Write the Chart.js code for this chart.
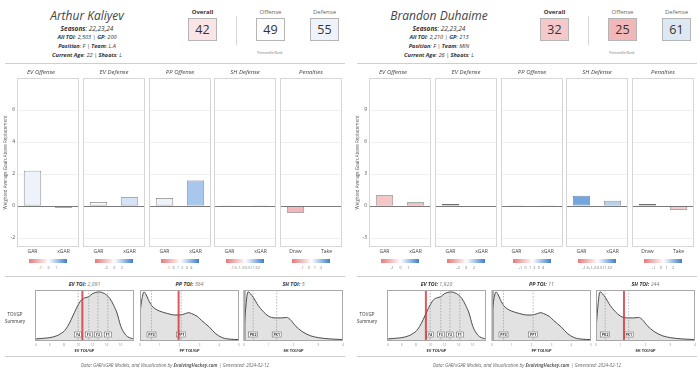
<!DOCTYPE html>
<html>
<head>
<meta charset="utf-8">
<script src="https://cdn.jsdelivr.net/npm/chart.js@4/dist/chart.umd.min.js"></script>
<style>
  body { margin: 0; background: #fff; }
  #page { position: relative; width: 700px; height: 377px; overflow: hidden; font-family: 'Open Sans', sans-serif; color: #333; }
  .t { position: absolute; white-space: nowrap; transform: translate(-50%, -50%); line-height: 1; }
  .box { position: absolute; border: 0.7px solid #b5b5b5; box-sizing: border-box; display: flex; align-items: center; justify-content: center; font-size: 12.5px; color: #333; }
  .rule { position: absolute; background: #cfcfcf; }
  .grad { position: absolute; height: 4px; background: linear-gradient(90deg, #e8797a 0%, #fce3e3 42%, #ffffff 50%, #e4edf9 58%, #3f7fcc 100%); }
  .gticks { position: absolute; display: flex; justify-content: space-evenly; font-size: 3.5px; color: #666; }
  canvas { position: absolute; }
</style>
</head>
<body>
<div id="page"></div>
<script>
// Panel names and bar categories
const panelTitles = ['EV Offense', 'EV Defense', 'PP Offense', 'SH Defense', 'Penalties'];
const barLabels = [['GAR', 'xGAR'], ['GAR', 'xGAR'], ['GAR', 'xGAR'], ['GAR', 'xGAR'], ['Draw', 'Take']];
const rankLabels = ['Overall', 'Offense', 'Defense'];

// Arthur Kaliyev
const kaliyevValues = [[2.2, -0.1], [0.25, 0.55], [0.5, 1.6], [0.02, 0.02], [-0.42, -0.03]];
const kaliyevColors = [['#eef3fb', '#e6a1a2'], ['#f8f9fc', '#d6e3f5'], ['#eef3fb', '#a9c7ec'], ['#c9c9c9', '#c9c9c9'], ['#f4b6b8', '#d9d9d9']];
const kaliyevRange = [-2.56, 8.0];
const kaliyevTicks = [-2, 0, 2, 4, 6];
const kaliyevRanks = [42, 49, 55];
const kaliyevRankColors = ['#fbe4e5', '#fcfcfd', '#eef2fa'];
const kaliyevToi = [10.6, 1.95, 0.02];
const kaliyevToiText = ['2,091', '384', '5'];
const kaliyevLegendTicks = [['-1', '0', '1'], ['-2', '0', '2'], ['-1', '0', '1', '2', '3', '4'], ['-1.5', '-1', '-.5', '0', '.5', '1', '1.5', '2'], ['-1', '0', '1', '2']];

// Brandon Duhaime
const duhaimeValues = [[1.0, 0.35], [0.2, 0.05], [0.02, 0.02], [0.97, 0.5], [0.2, -0.35]];
const duhaimeColors = [['#f6c6c7', '#f3c0c1'], ['#ffffff', '#e6ecf5'], ['#c9c9c9', '#c9c9c9'], ['#73a5de', '#b7cfee'], ['#fdfdfd', '#f5caca']];
const duhaimeRange = [-3.84, 12.0];
const duhaimeTicks = [-3, 0, 3, 6, 9];
const duhaimeRanks = [32, 25, 61];
const duhaimeRankColors = ['#f5c9ca', '#f2b8b9', '#dde8f5'];
const duhaimeToi = [9.4, 0.03, 1.13];
const duhaimeToiText = ['1,920', '11', '244'];
const duhaimeLegendTicks = [['-1', '0', '1'], ['-2', '0', '2'], ['-1', '0', '1', '2', '3', '4'], ['-1.5', '-1', '-.5', '0', '.5', '1', '1.5', '2'], ['-1', '0', '1', '2']];

// League TOI/GP distributions (relative density)
const evX = [3.9, 5, 6, 7, 7.5, 8, 8.5, 9, 9.5, 10, 10.5, 11, 11.5, 12, 12.5, 13, 13.5, 14, 14.5, 15, 15.5, 16, 16.5, 17, 17.9];
const evDensity = [0.02, 0.035, 0.05, 0.09, 0.13, 0.18, 0.28, 0.42, 0.58, 0.73, 0.84, 0.88, 0.9, 0.96, 0.99, 1.0, 0.98, 0.94, 0.86, 0.73, 0.56, 0.3, 0.15, 0.07, 0.02];
const ppX = [0, 0.1, 0.2, 0.3, 0.42, 0.6, 0.8, 1.0, 1.4, 1.75, 2.0, 2.3, 2.45, 2.6, 2.9, 3.1, 3.5, 3.8, 4.15, 4.5, 5.0];
const ppDensity = [0.57, 0.86, 1.0, 0.95, 0.84, 0.71, 0.64, 0.6, 0.55, 0.52, 0.52, 0.55, 0.57, 0.55, 0.49, 0.41, 0.27, 0.14, 0.05, 0.02, 0.01];
const shX = [0, 0.05, 0.16, 0.37, 0.57, 0.78, 0.98, 1.25, 1.52, 1.72, 1.86, 2.07, 2.34, 2.68, 3.0, 3.56, 4.0];
const shDensity = [0.2, 0.55, 1.0, 0.89, 0.72, 0.59, 0.5, 0.46, 0.46, 0.47, 0.43, 0.3, 0.18, 0.09, 0.05, 0.02, 0.01];
const evTicks = [4, 6, 8, 10, 12, 14, 16];
const ppTicks = [0, 1, 2, 3, 4, 5];
const shTicks = [0, 1, 2, 3, 4];
const evLines = [10.0, 11.5, 12.8, 14.2];
const evLineLabels = ['F4', 'F3', 'F2', 'F1'];
const ppLines = [0.58, 2.08];
const ppLineLabels = ['PP2', 'PP1'];
const shLines = [0.37, 1.32];
const shLineLabels = ['PK2', 'PK1'];

Chart.defaults.font.family = "'Open Sans', sans-serif";

const page = document.getElementById('page');

function addText(html, x, y, css) {
    const d = document.createElement('div');
    d.className = 't';
    d.innerHTML = html;
    d.style.left = x + 'px';
    d.style.top = y + 'px';
    Object.assign(d.style, css || {});
    page.appendChild(d);
    return d;
}

function addDiv(cls, x, y, w, h, css) {
    const d = document.createElement('div');
    d.className = cls;
    Object.assign(d.style, { left: x + 'px', top: y + 'px', width: w + 'px', height: h + 'px' }, css || {});
    page.appendChild(d);
    return d;
}

function makeCanvas(x, y, w, h) {
    const c = document.createElement('canvas');
    c.width = w;
    c.height = h;
    c.style.left = x + 'px';
    c.style.top = y + 'px';
    page.appendChild(c);
    return c;
}

// Thin grey frame round the plotting area
const panelBox = {
    id: 'panelBox',
    afterDraw(chart, args, opts) {
        const a = chart.chartArea, ctx = chart.ctx;
        ctx.save();
        ctx.strokeStyle = opts.color || '#ccc';
        ctx.lineWidth = 1;
        ctx.strokeRect(a.left + 0.5, a.top + 0.5, a.right - a.left - 1, a.bottom - a.top - 1);
        ctx.restore();
    }
};

// Quantile lines, their tags and the player's own TOI line
const densityMarks = {
    id: 'densityMarks',
    afterDatasetsDraw(chart, args, opts) {
        const sx = chart.scales.x, a = chart.chartArea, ctx = chart.ctx;
        ctx.save();
        ctx.strokeStyle = '#8a8a8a';
        ctx.lineWidth = 0.6;
        ctx.setLineDash([1.5, 1.5]);
        opts.lines.forEach(v => {
            const px = sx.getPixelForValue(v);
            ctx.beginPath();
            ctx.moveTo(px, a.top);
            ctx.lineTo(px, a.bottom);
            ctx.stroke();
        });
        ctx.setLineDash([]);
        ctx.font = 'bold 3.5px "Open Sans"';
        ctx.textAlign = 'center';
        ctx.textBaseline = 'middle';
        opts.lines.forEach((v, i) => {
            const px = sx.getPixelForValue(v);
            const w = opts.labels[i].length > 2 ? 9 : 7;
            const cy = a.bottom - 6.5;
            ctx.fillStyle = '#fff';
            ctx.fillRect(px - w / 2, cy - 2.5, w, 5);
            ctx.strokeStyle = '#555';
            ctx.lineWidth = 0.5;
            ctx.strokeRect(px - w / 2, cy - 2.5, w, 5);
            ctx.fillStyle = '#333';
            ctx.fillText(opts.labels[i], px, cy + 0.2);
        });
        if (opts.player != null) {
            const px = sx.getPixelForValue(opts.player);
            ctx.strokeStyle = 'rgba(214, 48, 52, 0.8)';
            ctx.lineWidth = 2;
            ctx.beginPath();
            ctx.moveTo(px, a.top);
            ctx.lineTo(px, a.bottom);
            ctx.stroke();
        }
        ctx.restore();
    }
};

function makeBarChart(x, i, values, colors, range, ticks) {
    const axisW = i === 0 ? 14 : 0;
    const canvas = makeCanvas(x - axisW, 67, 62 + axisW, 189);
    new Chart(canvas, {
        type: 'bar',
        data: {
            labels: barLabels[i],
            datasets: [{
                data: values[i],
                backgroundColor: colors[i],
                borderColor: '#6b6b6b',
                borderWidth: 0.8,
                borderSkipped: false,
                barPercentage: 0.56,
                categoryPercentage: 1
            }]
        },
        options: {
            responsive: false,
            animation: false,
            events: [],
            layout: { padding: 0 },
            plugins: {
                legend: { display: false },
                tooltip: { enabled: false },
                title: {
                    display: true,
                    text: panelTitles[i],
                    color: '#444',
                    font: { size: 6, style: 'italic', weight: 'normal' },
                    padding: { top: 2, bottom: 1.8 }
                },
                panelBox: { color: '#d6d6d6' }
            },
            scales: {
                x: {
                    grid: { display: false, drawTicks: false },
                    border: { display: false },
                    ticks: { color: '#444', font: { size: 5 }, padding: 2 },
                    afterFit: function(s) { s.height = 9; }
                },
                y: {
                    min: range[0],
                    max: range[1],
                    afterBuildTicks: function(s) { s.ticks = ticks.map(v => ({ value: v })); },
                    grid: {
                        drawTicks: false,
                        color: c => (c.tick && c.tick.value === 0 ? '#7a7a7a' : '#ececec'),
                        lineWidth: c => (c.tick && c.tick.value === 0 ? 1 : 0.8)
                    },
                    border: { display: false },
                    ticks: { display: i === 0, color: '#555', font: { size: 5 }, padding: 2 },
                    title: {
                        display: i === 0,
                        text: 'Weighted Average Goals Above Replacement',
                        color: '#555',
                        font: { size: 4.5 },
                        padding: 0
                    },
                    afterFit: function(s) { s.width = axisW; }
                }
            }
        },
        plugins: [panelBox]
    });
}

function makeDensityChart(x, xs, ys, ticks, axisTitle, lines, labels, player) {
    const canvas = makeCanvas(x - 6, 290, 99 + 12, 63);
    new Chart(canvas, {
        type: 'line',
        data: {
            datasets: [{
                data: xs.map((v, k) => ({ x: v, y: ys[k] })),
                borderColor: '#4a4a4a',
                borderWidth: 1,
                backgroundColor: '#e2e2e2',
                fill: 'origin',
                pointRadius: 0,
                cubicInterpolationMode: 'monotone'
            }]
        },
        options: {
            responsive: false,
            animation: false,
            events: [],
            layout: { padding: { left: 6, right: 6, top: 0, bottom: 0 } },
            plugins: {
                legend: { display: false },
                tooltip: { enabled: false },
                panelBox: { color: '#a8a8a8' },
                densityMarks: { lines: lines, labels: labels, player: player }
            },
            scales: {
                x: {
                    type: 'linear',
                    min: xs[0],
                    max: xs[xs.length - 1],
                    afterBuildTicks: function(s) { s.ticks = ticks.map(v => ({ value: v })); },
                    grid: { display: false, drawTicks: false },
                    border: { display: false },
                    ticks: { color: '#999', font: { size: 3.5 }, padding: 1.5 },
                    title: { display: true, text: axisTitle, color: '#333', font: { size: 4, weight: 'bold' }, padding: { top: 1, bottom: 0 } },
                    afterFit: function(s) { s.height = 12; }
                },
                y: { display: false, min: -0.02, max: 1.04 }
            }
        },
        plugins: [panelBox, densityMarks]
    });
}

function drawHalf(dx, info, values, colors, range, ticks, ranks, rankColors, toi, toiText, legendTicks) {
    // header
    addText(info.name, 87 + dx, 16, { fontSize: '12px', fontStyle: 'italic', color: '#444' });
    addText('<b>Seasons</b>: ' + info.seasons, 87 + dx, 29, { fontSize: '6.5px', fontStyle: 'italic' });
    addText('<b>All TOI</b>: ' + info.toi + ' | <b>GP</b>: ' + info.gp, 87 + dx, 38, { fontSize: '5.6px', fontStyle: 'italic' });
    addText('<b>Position</b>: ' + info.pos + ' | <b>Team</b>: ' + info.team, 87 + dx, 47, { fontSize: '5.6px', fontStyle: 'italic' });
    addText('<b>Current Age</b>: ' + info.age + ' | <b>Shoots</b>: ' + info.shoots, 87 + dx, 56, { fontSize: '5.6px', fontStyle: 'italic' });

    const boxX = [188, 256, 310];
    ranks.forEach((r, k) => {
        addText(rankLabels[k], boxX[k] + 14.5 + dx, 12, { fontSize: '6px', fontWeight: k === 0 ? 'bold' : 'normal', color: k === 0 ? '#333' : '#666' });
        const b = addDiv('box', boxX[k] + dx, 18, 29, 23, { background: rankColors[k] });
        b.textContent = r;
    });
    addDiv('rule', 236 + dx, 16, 0.7, 29, { background: '#d5d5d5' });
    addText('Percentile Rank', 270 + dx, 53, { fontSize: '3.5px', color: '#777' });
    addDiv('rule', 5 + dx, 63, 340, 1);

    // bar panels
    for (let i = 0; i < 5; i++) {
        const px = 17 + dx + i * 65.8;
        makeBarChart(px, i, values, colors, range, ticks);
        addDiv('grad', px + 12, 259, 38, 4);
        const g = addDiv('gticks', px + 16, 265, 30, 4);
        g.innerHTML = legendTicks[i].map(s => '<span>' + s + '</span>').join('');
    }
    addDiv('rule', 5 + dx, 276, 340, 1);

    // TOI distributions
    const dX = [35, 140, 244];
    const titles = ['EV TOI', 'PP TOI', 'SH TOI'];
    titles.forEach((s, k) => {
        addText('<b>' + s + ':</b> <span style="color:#777">' + toiText[k] + '</span>', dX[k] + 49.5 + dx, 285, { fontSize: '5.3px', fontStyle: 'italic' });
    });
    makeDensityChart(dX[0] + dx, evX, evDensity, evTicks, 'EV TOI/GP', evLines, evLineLabels, toi[0]);
    makeDensityChart(dX[1] + dx, ppX, ppDensity, ppTicks, 'PP TOI/GP', ppLines, ppLineLabels, toi[1]);
    makeDensityChart(dX[2] + dx, shX, shDensity, shTicks, 'SH TOI/GP', shLines, shLineLabels, toi[2]);
    addText('TOI/GP', 15 + dx, 314, { fontSize: '4.5px' });
    addText('Summary', 15 + dx, 321, { fontSize: '4.5px' });
    addDiv('rule', 5 + dx, 356, 340, 1);

    addText('Data: GAR/xGAR Models, and Visualization by <b>EvolvingHockey.com</b> | Generated: 2024-02-12', 175 + dx, 365, { fontSize: '4.6px', fontStyle: 'italic', color: '#666' });
}

drawHalf(0, { name: 'Arthur Kaliyev', seasons: '22,23,24', toi: '2,503', gp: '200', pos: 'F', team: 'L.A', age: '22', shoots: 'L' },
    kaliyevValues, kaliyevColors, kaliyevRange, kaliyevTicks, kaliyevRanks, kaliyevRankColors, kaliyevToi, kaliyevToiText, kaliyevLegendTicks);
drawHalf(352, { name: 'Brandon Duhaime', seasons: '22,23,24', toi: '2,210', gp: '213', pos: 'F', team: 'MIN', age: '26', shoots: 'L' },
    duhaimeValues, duhaimeColors, duhaimeRange, duhaimeTicks, duhaimeRanks, duhaimeRankColors, duhaimeToi, duhaimeToiText, duhaimeLegendTicks);
</script>
</body>
</html>
